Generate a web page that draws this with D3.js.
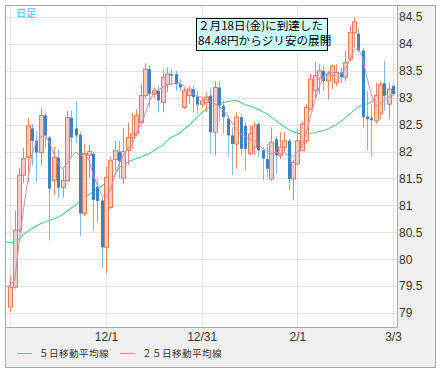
<!DOCTYPE html>
<html>
<head>
<meta charset="utf-8">
<script src="https://cdn.jsdelivr.net/npm/d3@7"></script>
<style>
  body { margin: 0; background: #fff; }
  svg { display: block; }
  .tick-label { font-family: "Liberation Sans", Arial, sans-serif; font-size: 12px; fill: #333; }
  .jp { font-family: "Noto Sans CJK JP", sans-serif; }
</style>
</head>
<body>
<svg id="chart" width="443" height="372"></svg>
<script>
// Trading days (first entry only feeds the moving averages at the left edge)
const dates = ["10/29",
  "11/1","11/2","11/3","11/4","11/5","11/8","11/9","11/10","11/11","11/12","11/15","11/16","11/17","11/18","11/19","11/22","11/23","11/24","11/25","11/26","11/29","11/30",
  "12/1","12/2","12/3","12/6","12/7","12/8","12/9","12/10","12/13","12/14","12/15","12/16","12/17","12/20","12/21","12/22","12/23","12/24","12/27","12/28","12/29","12/30","12/31",
  "1/3","1/4","1/5","1/6","1/7","1/10","1/11","1/12","1/13","1/14","1/17","1/18","1/19","1/20","1/21","1/24","1/25","1/26","1/27","1/28","1/31",
  "2/1","2/2","2/3","2/4","2/7","2/8","2/9","2/10","2/11","2/14","2/15","2/16","2/17","2/18","2/21","2/22","2/23","2/24","2/25","2/28",
  "3/1","3/2","3/3"];

const open = [null,
  79.11,79.48,80.54,81.56,81.89,82.43,82.20,81.98,82.67,82.26,81.46,81.89,81.33,81.46,82.63,82.43,82.31,80.85,81.93,81.96,81.35,81.09,
  80.22,80.96,81.85,82.00,81.50,82.02,82.26,82.33,82.54,83.04,83.53,83.07,83.13,82.91,83.25,83.44,83.44,83.25,82.82,83.04,83.16,83.02,82.88,
  82.91,83.04,82.36,83.19,82.85,82.61,82.30,82.14,82.64,82.48,81.96,82.08,82.51,82.02,81.86,81.49,82.23,81.93,82.08,82.20,81.49,
  81.77,82.02,82.20,82.79,83.13,83.35,83.50,83.31,83.41,83.28,83.47,83.38,83.72,84.21,84.19,83.88,82.65,82.63,82.57,82.70,
  83.27,82.88,83.22];
const high = [null,
  79.70,80.90,81.70,82.07,82.61,82.52,82.39,82.80,82.72,82.30,82.09,82.03,81.69,82.76,82.76,82.94,82.36,82.15,82.12,82.00,81.50,81.15,
  81.72,81.91,82.20,82.20,82.43,82.54,82.72,82.79,83.25,83.64,83.60,83.19,83.22,83.53,83.56,83.53,83.50,83.35,83.19,83.22,83.22,83.13,83.01,
  83.10,83.19,83.31,83.31,82.95,82.67,82.45,82.73,82.70,82.55,82.48,82.55,82.55,82.08,82.14,82.45,82.28,82.36,82.36,82.24,81.85,
  82.42,82.55,82.88,83.44,83.65,83.62,83.59,83.50,83.62,83.62,83.56,83.87,84.33,84.48,84.30,83.93,83.13,82.88,83.28,83.30,
  83.69,83.28,83.25];
const low = [null,
  79.02,79.45,80.50,81.41,81.43,81.74,81.43,81.74,82.07,80.35,81.19,81.13,81.15,81.43,81.89,82.15,80.43,80.80,81.52,80.54,80.67,79.83,
  79.74,80.93,81.65,81.50,81.40,81.75,82.05,82.28,82.50,82.98,82.82,82.99,82.73,82.73,83.10,83.22,83.13,83.13,82.79,82.88,82.73,82.70,82.82,
  82.73,81.96,81.93,82.54,82.33,81.90,81.56,81.68,81.93,81.65,81.93,81.93,81.90,81.46,81.52,81.46,81.59,81.86,82.00,81.28,81.09,
  81.74,82.00,82.15,82.76,82.97,83.07,83.13,82.97,83.16,83.22,83.28,83.31,83.68,83.93,83.84,82.45,82.02,81.90,82.51,82.60,
  82.76,82.60,83.04];
const close = [null,
  79.48,80.54,81.56,81.87,82.48,82.20,81.98,82.67,82.30,81.31,81.89,81.33,81.46,82.63,82.26,82.30,80.85,81.96,82.00,81.10,81.08,80.22,
  81.52,81.83,82.02,81.82,82.00,82.26,82.33,82.67,83.04,83.53,83.07,83.13,82.95,83.38,83.44,83.41,83.25,83.19,83.13,83.16,83.01,82.87,82.94,
  83.01,82.36,83.19,82.85,82.64,82.30,82.14,82.64,82.05,82.05,82.33,82.48,82.02,81.87,81.68,82.17,81.93,82.08,82.20,81.49,81.80,
  82.20,82.51,82.82,83.35,83.41,83.50,83.31,83.44,83.59,83.47,83.38,83.65,84.21,84.41,83.88,82.64,82.60,82.58,83.04,83.25,
  83.04,83.16,83.07];

const ma5 = [79.49,
  79.52,79.61,80.29,80.91,81.46,81.96,82.17,82.27,82.30,82.17,81.96,81.77,81.68,81.77,81.89,81.99,81.93,81.96,81.86,81.59,81.37,81.19,
  81.15,81.28,81.55,81.77,81.93,82.05,82.12,82.35,82.50,82.70,82.94,83.08,83.15,83.19,83.23,83.26,83.28,83.27,83.22,83.14,83.07,83.03,83.01,
  82.97,82.93,82.89,82.84,82.77,82.66,82.53,82.42,82.32,82.28,82.24,82.21,82.15,82.05,82.02,81.96,81.99,81.96,81.99,81.90,81.90,
  81.99,82.08,82.33,82.64,82.94,83.19,83.38,83.47,83.47,83.47,83.44,83.53,83.69,83.88,83.93,83.75,83.38,83.07,82.85,82.88,
  82.94,83.01,83.04];
const ma25 = [80.32,
  80.31,80.31,80.37,80.46,80.52,80.57,80.62,80.66,80.69,80.72,80.75,80.78,80.83,80.89,80.95,81.01,81.07,81.13,81.20,81.25,81.30,81.36,
  81.41,81.49,81.56,81.70,81.77,81.80,81.84,81.87,81.90,81.93,81.96,82.02,82.07,82.11,82.20,82.27,82.30,82.35,82.42,82.48,82.56,82.64,82.72,
  82.78,82.83,82.87,82.90,82.91,82.93,82.94,82.95,82.91,82.87,82.85,82.82,82.78,82.74,82.70,82.64,82.58,82.52,82.46,82.41,82.37,
  82.34,82.33,82.33,82.34,82.35,82.37,82.39,82.42,82.46,82.50,82.56,82.62,82.69,82.76,82.83,82.86,82.89,82.92,82.97,83.02,
  83.05,83.09,83.13];

const yTicks = [79, 79.5, 80, 80.5, 81, 81.5, 82, 82.5, 83, 83.5, 84, 84.5];
const xGridDates = ["11/1", "12/1", "12/31", "2/1", "3/3"];
const xTickLabels = ["12/1", "12/31", "2/1", "3/3"];
const noteLines = ["２月18日(金)に到達した", "84.48円からジリ安の展開"];
const legendItems = [
  { label: "５日移動平均線", color: "#c98bb0" },
  { label: "２５日移動平均線", color: "#5ccf8f" }
];

const svg = d3.select('#chart');
const plot = { left: 6, top: 6, right: 397, bottom: 327 };

const x = d3.scalePoint().domain(dates).range([6, 393]);
const y = d3.scaleLinear().domain([79, 84.5]).range([313, 17]);

// Outer frame and plot background
svg.append('rect')
    .attr('x', 5.5).attr('y', 5.5)
    .attr('width', 430).attr('height', 362)
    .attr('fill', '#f0f0f0')
    .attr('stroke', '#a8a8a8');

svg.append('rect')
    .attr('x', plot.left).attr('y', plot.top)
    .attr('width', plot.right - plot.left).attr('height', plot.bottom - plot.top)
    .attr('fill', '#fff');

svg.append('clipPath').attr('id', 'clip')
  .append('rect')
    .attr('x', plot.left).attr('y', plot.top)
    .attr('width', plot.right - plot.left).attr('height', plot.bottom - plot.top);

// Gridlines
const grid = svg.append('g').attr('stroke', '#e4e4e4').attr('stroke-width', 1);
grid.selectAll('line.h')
    .data(yTicks)
    .enter().append('line')
    .attr('x1', plot.left).attr('x2', plot.right)
    .attr('y1', d => Math.round(y(d)) + 0.5)
    .attr('y2', d => Math.round(y(d)) + 0.5);
grid.selectAll('line.v')
    .data(xGridDates)
    .enter().append('line')
    .attr('y1', plot.top).attr('y2', plot.bottom)
    .attr('x1', d => Math.round(x(d)) + 0.5)
    .attr('x2', d => Math.round(x(d)) + 0.5);

// Plot border (right and bottom)
svg.append('path')
    .attr('d', `M${plot.right + 0.5},${plot.top}V${plot.bottom + 0.5}H${plot.left}`)
    .attr('fill', 'none')
    .attr('stroke', '#a8a8a8');

const body = svg.append('g').attr('clip-path', 'url(#clip)');

// Moving averages
const line = d3.line()
    .x((d, i) => x(dates[i]))
    .y(d => y(d));

body.append('path')
    .datum(ma25)
    .attr('d', line)
    .attr('fill', 'none')
    .attr('stroke', '#55cc88')
    .attr('stroke-width', 1.1);

// Candles
const candles = dates.map((d, i) => ({
    date: d, o: open[i], h: high[i], l: low[i], c: close[i]
})).filter(d => d.o !== null);

const candle = body.selectAll('g.candle')
    .data(candles)
    .enter().append('g');

candle.append('line')
    .attr('x1', d => Math.round(x(d.date)) + 0.5)
    .attr('x2', d => Math.round(x(d.date)) + 0.5)
    .attr('y1', d => y(d.h))
    .attr('y2', d => y(d.l))
    .attr('stroke', d => d.c >= d.o ? '#e8846a' : '#86b6dc');

candle.append('rect')
    .attr('x', d => Math.round(x(d.date)) - 1 + (d.c >= d.o ? -0.5 : 0))
    .attr('y', d => y(Math.max(d.o, d.c)))
    .attr('width', d => d.c >= d.o ? 4 : 3)
    .attr('height', d => Math.max(1, Math.abs(y(d.o) - y(d.c))))
    .attr('fill', d => d.c >= d.o ? '#f7cbbd' : '#3a85c1')
    .attr('stroke', d => d.c >= d.o ? '#e37a5d' : 'none');

body.append('path')
    .datum(ma5)
    .attr('d', line)
    .attr('fill', 'none')
    .attr('stroke', '#c98bb0')
    .attr('stroke-width', 1);

// Axes
const yAxis = svg.append('g')
    .attr('transform', `translate(${plot.right + 1},0)`)
    .call(d3.axisRight(y).tickValues(yTicks).tickSize(0).tickPadding(1).tickFormat(d3.format('')));
yAxis.select('.domain').remove();
yAxis.selectAll('text').attr('class', 'tick-label');

const xAxis = svg.append('g')
    .attr('transform', `translate(0,${plot.bottom})`)
    .call(d3.axisBottom(x).tickValues(xTickLabels).tickSize(0).tickPadding(5));
xAxis.select('.domain').remove();
xAxis.selectAll('text').attr('class', 'tick-label');

// Chart type label
svg.append('text')
    .attr('class', 'jp')
    .attr('x', 16).attr('y', 17)
    .attr('font-size', 10)
    .attr('fill', '#3cc4f4')
    .text('日足');

// Annotation box
const note = svg.append('g');
note.append('rect')
    .attr('x', 196.5).attr('y', 18.5)
    .attr('width', 131).attr('height', 32)
    .attr('fill', '#ccffff')
    .attr('stroke', '#000');
note.selectAll('text')
    .data(noteLines)
    .enter().append('text')
    .attr('class', 'jp')
    .attr('x', 198)
    .attr('y', (d, i) => 30 + i * 15)
    .attr('font-size', 11.6)
    .attr('fill', '#000')
    .text(d => d);

// Legend
const legend = svg.append('g');
const legendX = [17, 120];
legendItems.forEach((item, i) => {
    legend.append('line')
        .attr('x1', legendX[i]).attr('x2', legendX[i] + 15)
        .attr('y1', 353.5).attr('y2', 353.5)
        .attr('stroke', item.color);
    legend.append('text')
        .attr('class', 'jp')
        .attr('x', legendX[i] + 22).attr('y', 357)
        .attr('font-size', 9.6)
        .attr('letter-spacing', 0.4)
        .attr('fill', '#333')
        .text(item.label);
});
</script>
</body>
</html>
